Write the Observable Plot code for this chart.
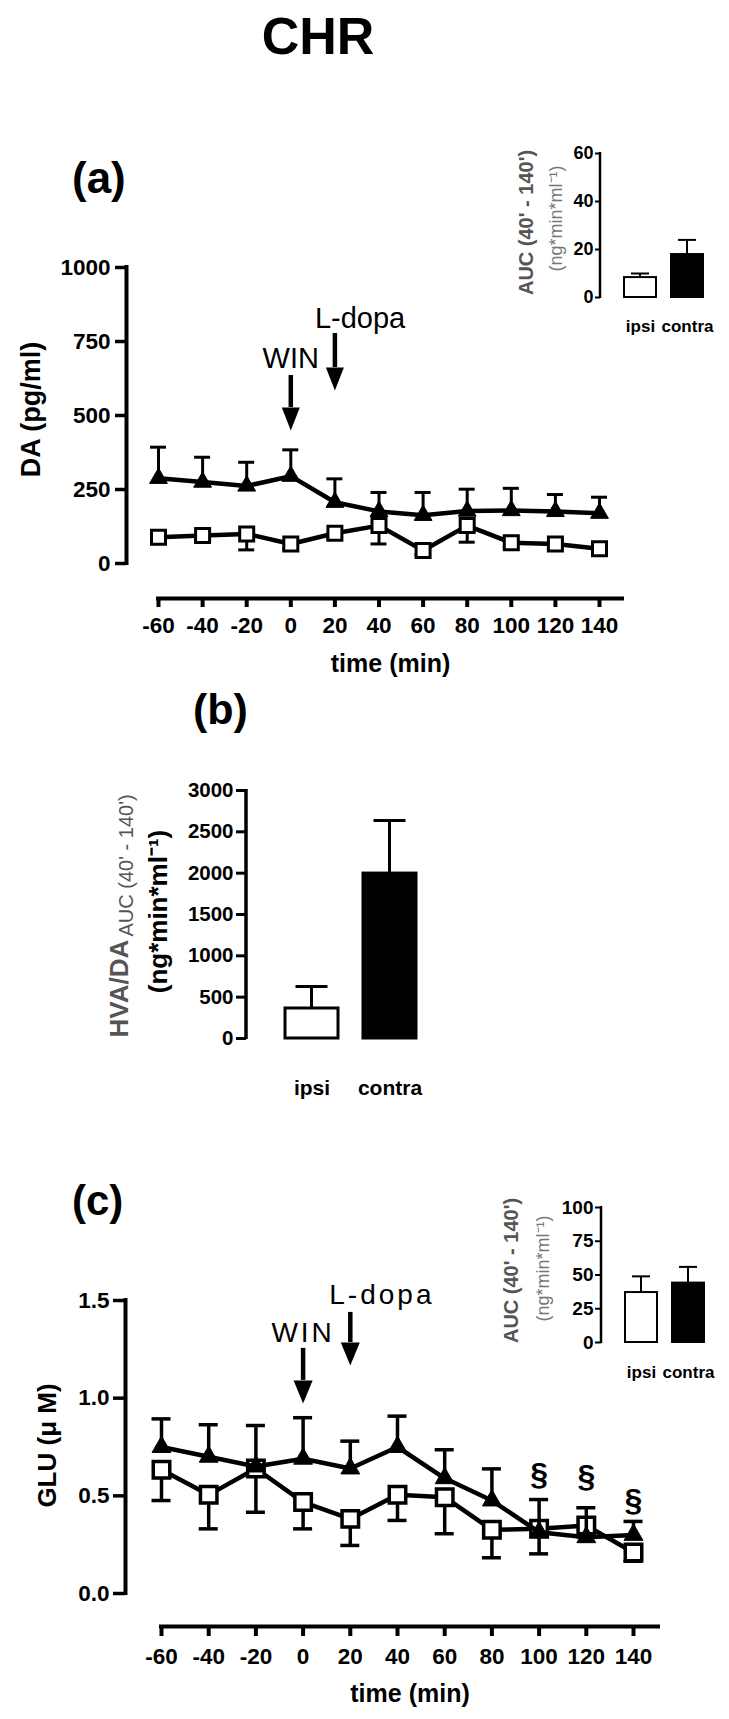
<!DOCTYPE html>
<html><head><meta charset="utf-8">
<script src="https://cdn.jsdelivr.net/npm/d3@7"></script>
<script src="https://cdn.jsdelivr.net/npm/@observablehq/plot@0.6"></script>
<style>
body{margin:0;background:#fff;}
#fig{position:relative;width:729px;height:1719px;background:#fff;font-family:'Liberation Sans',Arial,Helvetica,sans-serif;overflow:hidden}
.lbl{position:absolute;font-weight:bold;line-height:1;white-space:nowrap;color:#000}
.panel{position:absolute}
</style></head><body>
<div id="fig">
<div class="lbl" style="left:318px;top:10px;font-size:52px;transform:translateX(-50%)">CHR</div>
<div class="lbl" style="left:72px;top:156px;font-size:44px">(a)</div>
<div class="lbl" style="left:193px;top:688px;font-size:43px">(b)</div>
<div class="lbl" style="left:72px;top:1180px;font-size:42px">(c)</div>
</div>
<script>
// ---------- data ----------
const time = [-60, -40, -20, 0, 20, 40, 60, 80, 100, 120, 140];

// (a) DA (pg/ml)
const daContra      = [288, 275, 262, 295, 207, 176, 163, 177, 179, 176, 170];
const daContraUpper = [393, 359, 342, 384, 286, 240, 240, 251, 254, 233, 224];
const daIpsi        = [89, 95, 100, 66, 102, 128, 44, 128, 70, 66, 50];
const daIpsiLower   = [70, 78, 46, 50, 85, 66, 30, 72, 55, 50, 35];
const daTicks = [0, 250, 500, 750, 1000];

// (c) GLU (uM)
const gluContra      = [0.75, 0.70, 0.65, 0.69, 0.64, 0.75, 0.59, 0.476, 0.314, 0.288, 0.30];
const gluContraUpper = [0.894, 0.864, 0.86, 0.90, 0.78, 0.908, 0.736, 0.638, 0.481, 0.439, 0.369];
const gluIpsi        = [0.633, 0.505, 0.64, 0.468, 0.382, 0.505, 0.493, 0.326, 0.331, 0.348, 0.21];
const gluIpsiLower   = [0.476, 0.331, 0.416, 0.331, 0.246, 0.374, 0.306, 0.183, 0.203, 0.29, 0.165];
const gluTicks = [0, 0.5, 1.0, 1.5];
const sigTimes = [100, 120, 140];
const sigLevel = [0.553, 0.543, 0.42];
const sigMark = "§";

// bar charts
const groups = ["ipsi", "contra"];
const daAuc = [8.3, 17.9];
const daAucUpper = [10, 24];
const daAucTicks = [0, 20, 40, 60];
const hvaAuc = [363, 1995];
const hvaAucUpper = [629, 2636];
const hvaTicks = [0, 500, 1000, 1500, 2000, 2500, 3000];
const gluAuc = [37, 44];
const gluAucUpper = [49, 56];
const gluAucTicks = [0, 25, 50, 75, 100];

const eventNames = ["WIN", "L-dopa"];
const eventTimes = [0, 20];

const aucLabel = "AUC (40' - 140')";
const unitLabel = "(ng*min*ml\u207B\u00B9)";

// ---------- helpers ----------
const fig = document.getElementById("fig");
const FONT = "'Liberation Sans', Arial, Helvetica, sans-serif";
const baseStyle = fs => ({fontFamily: FONT, fontSize: fs + "px", fontWeight: "bold", color: "black", background: "none", overflow: "visible"});
function place(svg, left, top) {
  const d = document.createElement("div");
  d.className = "panel"; d.style.left = left + "px"; d.style.top = top + "px";
  d.appendChild(svg); fig.appendChild(d);
}

function linePanel(c) {
  const kx = (c.xCal[3] - c.xCal[1]) / (c.xCal[2] - c.xCal[0]);
  const px2x = p => c.xCal[0] + (p - c.xCal[1]) / kx;
  const ky = (c.yCal[3] - c.yCal[1]) / (c.yCal[2] - c.yCal[0]);
  const py2y = p => c.yCal[0] + (p - c.yCal[1]) / ky;
  const xMin = px2x(c.yAxisPx), xMax = px2x(c.xAxisEndPx);
  const yMax = c.yCal[2], yMin = py2y(c.xAxisPy);
  const rows = time.map((t, i) => ({t, contra: c.contra[i], contraUp: c.contraUp[i], ipsi: c.ipsi[i], ipsiLo: c.ipsiLo[i]}));
  const cap = c.capPx / 2 / kx;
  const ev = eventNames.map((name, i) => ({name, t: eventTimes[i], top: c.arrowTop[i], head: c.arrowHead[i], ly: c.labelY[i]}));
  const head = {draw(ctx) { const w = c.headW / 2; ctx.moveTo(-w, 0); ctx.lineTo(w, 0); ctx.lineTo(0, c.headH); ctx.closePath(); }};
  const marks = [
    Plot.ruleX([xMin], {y1: 0, y2: yMax, strokeWidth: c.axisW, strokeLinecap: "square"}),
    Plot.ruleY([yMin], {x1: time[0], x2: xMax, strokeWidth: c.axisW, strokeLinecap: "square"}),
    Plot.axisY({ticks: c.yTicks, tickFormat: c.yFmt, tickSize: c.yTickSize, tickPadding: c.yTickPad, strokeWidth: c.tickW, fontSize: c.tickFont, label: null}),
    Plot.axisX({ticks: time, tickFormat: d => String(d), tickSize: c.xTickSize, tickPadding: c.xTickPad, strokeWidth: c.axisW, fontSize: c.tickFont, label: null}),
    // ipsi (open squares, error downward)
    Plot.line(rows, {x: "t", y: "ipsi", strokeWidth: c.lineW}),
    Plot.ruleX(rows, {x: "t", y1: "ipsi", y2: "ipsiLo", strokeWidth: c.errW}),
    Plot.ruleY(rows, {y: "ipsiLo", x1: d => d.t - cap, x2: d => d.t + cap, strokeWidth: c.errW}),
    Plot.dot(rows, {x: "t", y: "ipsi", symbol: "square", r: c.sqR, fill: "white", stroke: "black", strokeWidth: c.sqW}),
    // contra (filled triangles, error upward)
    Plot.line(rows, {x: "t", y: "contra", strokeWidth: c.lineW}),
    Plot.ruleX(rows, {x: "t", y1: "contra", y2: "contraUp", strokeWidth: c.errW}),
    Plot.ruleY(rows, {y: "contraUp", x1: d => d.t - cap, x2: d => d.t + cap, strokeWidth: c.errW}),
    Plot.dot(rows, {x: "t", y: "contra", symbol: "triangle", r: c.triR, fill: "black", stroke: "black", strokeWidth: 1}),
    // event arrows
    Plot.ruleX(ev, {x: "t", y1: "top", y2: "head", strokeWidth: c.shaftW}),
    Plot.dot(ev, {x: "t", y: "head", symbol: head, r: 5, fill: "black", stroke: "none"}),
    Plot.text(ev.slice(0, 1), {x: "t", y: "ly", text: "name", textAnchor: "middle", lineAnchor: "bottom", fontSize: c.annFont, fontWeight: "normal"}),
    Plot.text(ev.slice(1), {x: "t", y: "ly", text: "name", textAnchor: "start", dx: c.ldopaDx, lineAnchor: "bottom", fontSize: c.annFont, fontWeight: "normal"}),
    // axis titles
    Plot.text([c.xLabel], {x: (time[0] + xMax) / 2, frameAnchor: "bottom", dy: c.xLabelBase - c.xAxisPy, text: d => d, lineAnchor: "bottom", fontSize: c.labelFont}),
    Plot.text([c.yLabel], {frameAnchor: "left", y: py2y(c.yLabelCy), dx: c.yLabelBase - c.yAxisPx, text: d => d, rotate: -90, textAnchor: "middle", lineAnchor: "bottom", fontSize: c.yLabelFont})
  ];
  if (c.sig) marks.push(Plot.text(c.sig, {x: "t", y: "y", text: () => sigMark, lineAnchor: "bottom", fontSize: 32}));
  const svg = Plot.plot({
    width: c.width, height: c.height,
    marginLeft: c.yAxisPx - c.left,
    marginRight: c.left + c.width - c.xAxisEndPx,
    marginTop: c.yCal[3] - c.top,
    marginBottom: c.top + c.height - c.xAxisPy,
    x: {domain: [xMin, xMax], label: null},
    y: {domain: [yMin, yMax], label: null},
    style: baseStyle(c.tickFont),
    marks
  });
  if (c.annSpacing) {
    d3.select(svg).selectAll("text").filter(function() { return eventNames.includes(this.textContent); }).attr("letter-spacing", c.annSpacing);
  }
  place(svg, c.left, c.top);
}

function barPanel(c) {
  const pi = 1 - c.barW / c.step, po = (c.firstBarPx - c.axisPx) / c.step;
  const rangeW = (groups.length - pi + 2 * po) * c.step;
  const ky = (c.maxPy - c.zeroPy) / c.yMax;
  const py2y = p => (p - c.zeroPy) / ky;
  const rows = groups.map((g, i) => ({g, v: c.values[i], up: c.upper[i]}));
  const ml = c.axisPx - c.left;
  const marks = [
    Plot.rect([0], {y1: 0, y2: c.yMax, insetRight: rangeW - c.axisW, insetTop: -1, insetBottom: -1, dx: -c.axisW / 2, fill: "black"}),
    Plot.axisY({ticks: c.yTicks, tickFormat: d => String(d), tickSize: c.yTickSize, tickPadding: c.yTickPad, strokeWidth: c.tickW, fontSize: c.tickFont, label: null}),
    Plot.axisX({tickSize: 0, tickPadding: c.xLabelPad, fontSize: c.xLabelFont, label: null}),
    Plot.barY(rows, {x: "g", y1: "v", y2: "up", insetLeft: (c.barW - c.errW) / 2, insetRight: (c.barW - c.errW) / 2, fill: "black"}),
    Plot.tickY(rows, {x: "g", y: "up", inset: (c.barW - c.capW) / 2, strokeWidth: c.errW}),
    Plot.barY(rows, {filter: d => d.g === groups[0], x: "g", y: "v", fill: "white", stroke: "black", strokeWidth: c.barStroke}),
    Plot.barY(rows, {filter: d => d.g === groups[1], x: "g", y: "v", fill: "black", stroke: "black", strokeWidth: c.barStroke})
  ];
  for (const l of c.labels) {
    marks.push(Plot.text([l.text], {frameAnchor: "left", y: py2y(l.y), dx: l.base - c.axisPx, text: d => d, rotate: -90,
      textAnchor: l.anchor, lineAnchor: "bottom", fontSize: l.size, fontWeight: l.weight, fill: l.fill}));
  }
  const svg = Plot.plot({
    width: c.width, height: c.height,
    marginLeft: ml, marginRight: c.width - ml - rangeW,
    marginTop: c.maxPy - c.top, marginBottom: c.top + c.height - c.zeroPy,
    x: {type: "band", domain: groups, paddingInner: pi, paddingOuter: po, align: 0.5, round: false, label: null},
    y: {domain: [0, c.yMax], label: null},
    style: baseStyle(c.tickFont),
    marks
  });
  place(svg, c.left, c.top);
}

// ---------- panels ----------
linePanel({
  left: 0, top: 250, width: 650, height: 440,
  yAxisPx: 126, xCal: [-60, 158, 140, 599], yCal: [0, 563, 1000, 267], xAxisPy: 598, xAxisEndPx: 622,
  contra: daContra, contraUp: daContraUpper, ipsi: daIpsi, ipsiLo: daIpsiLower,
  yTicks: daTicks, yFmt: d => String(d),
  tickFont: 22.5, yTickSize: 11, yTickPad: 5, xTickSize: 9, xTickPad: 10, tickW: 3.5, axisW: 4,
  lineW: 4.5, errW: 3, capPx: 16, sqR: 7.9, sqW: 3, triR: 6.6,
  headW: 18, headH: 23, shaftW: 4.5,
  arrowTop: [635, 777], arrowHead: [527, 662], labelY: [659, 794],
  annFont: 29, ldopaDx: -20, annSpacing: 0,
  xLabel: "time (min)", xLabelBase: 671, labelFont: 25,
  yLabel: "DA (pg/ml)", yLabelBase: 39, yLabelCy: 409, yLabelFont: 27
});

barPanel({
  left: 470, top: 130, width: 259, height: 210,
  axisPx: 600, firstBarPx: 624, barW: 32, step: 47, zeroPy: 297, maxPy: 153, yMax: 60,
  values: daAuc, upper: daAucUpper, yTicks: daAucTicks,
  tickFont: 18, yTickSize: 5, yTickPad: 2, tickW: 2, axisW: 2.5, errW: 2, capW: 18, barStroke: 2,
  xLabelPad: 22, xLabelFont: 17,
  labels: [
    {text: aucLabel, y: 222, base: 532, anchor: "middle", size: 20, weight: "bold", fill: "#555"},
    {text: unitLabel, y: 218, base: 561, anchor: "middle", size: 18, weight: "normal", fill: "#777"}
  ]
});

barPanel({
  left: 0, top: 680, width: 470, height: 440,
  axisPx: 246, firstBarPx: 285, barW: 53, step: 78, zeroPy: 1038, maxPy: 790, yMax: 3000,
  values: hvaAuc, upper: hvaAucUpper, yTicks: hvaTicks,
  tickFont: 20.5, yTickSize: 10, yTickPad: 3, tickW: 3, axisW: 3.5, errW: 3, capW: 32, barStroke: 3,
  xLabelPad: 42, xLabelFont: 21,
  labels: [
    {text: "HVA/DA", y: 1037, base: 127, anchor: "start", size: 26, weight: "bold", fill: "#555"},
    {text: aucLabel, y: 936, base: 132, anchor: "start", size: 20, weight: "normal", fill: "#555"},
    {text: unitLabel, y: 911, base: 166, anchor: "middle", size: 26, weight: "bold", fill: "black"}
  ]
});

linePanel({
  left: 0, top: 1270, width: 680, height: 449,
  yAxisPx: 125, xCal: [-60, 161, 140, 633], yCal: [0, 1593, 1.5, 1300], xAxisPy: 1626, xAxisEndPx: 658,
  contra: gluContra, contraUp: gluContraUpper, ipsi: gluIpsi, ipsiLo: gluIpsiLower,
  yTicks: gluTicks, yFmt: d => d.toFixed(1),
  tickFont: 22.5, yTickSize: 12, yTickPad: 4, xTickSize: 10, xTickPad: 12, tickW: 3.5, axisW: 4,
  lineW: 4.5, errW: 3.5, capPx: 19, sqR: 9.3, sqW: 3.5, triR: 7,
  headW: 19, headH: 23, shaftW: 4.5,
  arrowTop: [1.255, 1.439], arrowHead: [1.091, 1.285], labelY: [1.285, 1.480],
  annFont: 28, ldopaDx: -21, annSpacing: 3,
  xLabel: "time (min)", xLabelBase: 1701, labelFont: 25,
  yLabel: "GLU (\u03BC M)", yLabelBase: 55, yLabelCy: 1445, yLabelFont: 26,
  sig: sigTimes.map((t, i) => ({t, y: sigLevel[i]}))
});

barPanel({
  left: 470, top: 1185, width: 259, height: 210,
  axisPx: 601, firstBarPx: 625, barW: 32, step: 47, zeroPy: 1342, maxPy: 1207, yMax: 100,
  values: gluAuc, upper: gluAucUpper, yTicks: gluAucTicks,
  tickFont: 19, yTickSize: 6, yTickPad: 2, tickW: 2, axisW: 2.5, errW: 2, capW: 18, barStroke: 2,
  xLabelPad: 23, xLabelFont: 17,
  labels: [
    {text: aucLabel, y: 1270, base: 517, anchor: "middle", size: 20, weight: "bold", fill: "#555"},
    {text: unitLabel, y: 1268, base: 548, anchor: "middle", size: 18, weight: "normal", fill: "#777"}
  ]
});
</script>
</body></html>
